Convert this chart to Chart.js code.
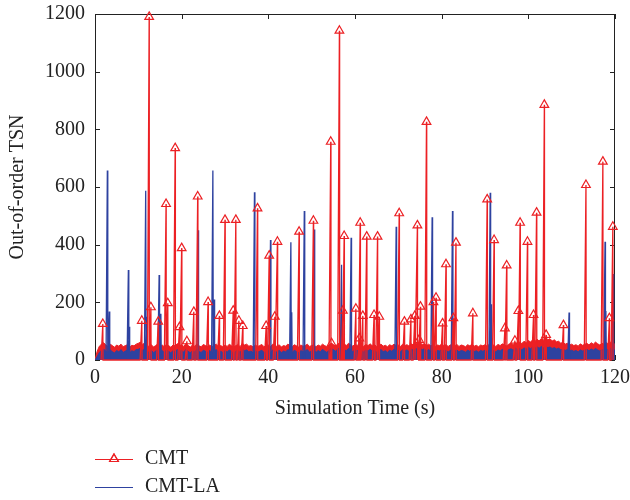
<!DOCTYPE html>
<html><head><meta charset="utf-8">
<script src="https://cdn.jsdelivr.net/npm/chart.js@4/dist/chart.umd.min.js"></script>
<style>html,body{margin:0;padding:0;background:#fff}</style>
</head><body>
<canvas id="c" width="630" height="500"></canvas>
<script>
// ---- data ----
const xTicks = [0, 20, 40, 60, 80, 100, 120];
const yTicks = [0, 200, 400, 600, 800, 1000, 1200];
const seriesNames = ['CMT', 'CMT-LA'];

// CMT peaks (time s, out-of-order TSN) marked by triangles
const cmtPeakTimes = [1.8,10.8,12.5,12.9,14.6,16.4,16.8,18.5,19.5,20.0,21.2,22.8,23.7,26.1,28.7,30.0,31.9,32.5,33.2,34.1,37.5,39.5,40.2,41.5,42.1,47.1,50.4,54.4,54.6,56.4,57.2,57.5,60.2,61.0,61.2,61.8,62.7,64.4,65.2,65.6,70.2,71.4,72.9,73.8,74.4,74.8,75.1,76.5,78.1,78.7,80.2,81.0,82.7,83.3,87.2,90.5,92.1,94.6,95.0,96.9,97.7,98.1,99.8,101.2,101.9,103.7,104.1,108.1,113.3,117.2,118.7,119.5];
const cmtPeakValues = [125,136,1190,183,133,541,197,735,114,388,65,167,567,201,153,486,171,486,136,118,526,118,362,150,410,445,483,757,58,1142,171,430,178,75,476,153,428,156,428,150,509,133,141,153,467,70,185,826,201,216,127,332,145,407,162,557,416,110,328,67,170,476,410,156,511,885,87,121,607,688,145,462];

// CMT-LA spikes
const claPeakTimes = [2.85,3.3,7.7,7.9,11.7,11.9,14.8,15.2,23.8,27.2,27.5,36.8,40.5,45.2,45.4,48.3,50.6,56.9,59.1,69.5,77.8,82.5,91.2,91.4,109.4,117.7,117.9,119.6];
const claPeakValues = [657,168,312,115,587,150,295,160,450,657,210,582,416,408,166,517,453,330,424,462,495,517,580,193,165,410,170,298];

// dense low-level band, one value every 0.5 s from 0 to 120 s
const cmtBand = [
 0,30,48,55,60,52,47,55,50,44,52,48,55,46,50,53,45,51,49,55,
 58,62,54,60,50,47,53,45,50,56,48,52,46,55,50,44,52,49,57,50,
 53,47,58,50,45,52,48,55,49,46,54,50,47,52,45,51,55,48,50,46,
 52,47,55,49,45,50,53,46,58,52,55,48,50,45,52,47,50,54,46,49,
 52,46,55,50,47,53,45,50,48,55,51,46,53,49,45,52,48,50,55,47,
 50,53,46,52,48,55,50,46,52,58,54,49,55,60,52,56,50,58,53,48,
 55,50,58,52,47,54,50,56,49,53,47,52,55,48,51,46,53,49,55,50,
 52,47,55,50,53,48,56,52,58,55,60,54,57,50,55,49,53,47,52,50,
 55,50,53,47,52,56,49,54,47,52,50,46,53,49,55,48,51,46,52,49,
 53,48,55,50,52,47,54,50,56,52,49,55,58,53,60,55,62,57,65,60,
 68,62,70,64,72,66,75,68,80,70,74,66,70,63,65,58,62,55,58,52,
 55,50,53,48,56,51,54,58,52,60,55,62,56,52,58,54,60,56,62,58,
 55];
const claBand = [
 0,12,26,34,38,30,27,35,29,24,33,28,36,26,31,34,25,32,29,36,
 37,41,33,38,29,27,34,25,31,36,28,33,26,35,30,24,33,29,37,30,
 33,27,38,30,25,32,28,36,29,26,34,30,27,33,25,31,36,28,30,26,
 32,27,35,29,25,30,34,26,38,32,35,28,31,25,33,27,30,34,26,29,
 33,26,35,30,27,34,25,31,28,36,32,26,34,29,25,33,28,31,36,27,
 31,35,26,33,28,37,31,26,34,40,36,30,38,42,33,37,31,40,35,29,
 36,31,39,33,28,35,31,37,30,34,27,33,36,29,32,26,34,30,37,31,
 33,28,36,31,35,29,38,33,40,36,42,35,39,31,36,30,34,28,33,31,
 36,31,34,28,33,37,30,35,28,33,31,27,34,30,36,29,32,27,33,30,
 34,29,36,31,33,28,35,31,37,33,30,36,39,34,41,36,40,35,42,38,
 44,39,45,40,46,41,47,42,48,43,45,40,43,38,41,35,38,33,36,31,
 34,30,33,28,35,31,34,37,32,38,34,40,35,31,37,33,38,35,40,36,
 34];
const bandStep = 0.5;

// ---- styling ----
const RED = 'rgb(236,32,36)';
const BLUE = 'rgb(46,66,160)';
const FONT = 'Liberation Serif';
const TXT = '#222';
const FS = 20;

function bandPoints(arr) { return arr.map((v, i) => ({ x: i * bandStep, y: v })); }
function spikePoints(times, values, before, after) {
  const pts = [];
  times.forEach((t, i) => {
    pts.push({ x: t - before, y: 0 });
    pts.push({ x: t, y: values[i], peak: true });
    pts.push({ x: t + after, y: 0 });
  });
  return pts;
}

const frameAndTicks = {
  id: 'frameAndTicks',
  beforeDatasetsDraw(chart) {
    const { ctx, chartArea: a, scales: { x, y } } = chart;
    ctx.save();
    ctx.strokeStyle = '#222';
    ctx.lineWidth = 1;
    ctx.strokeRect(a.left + 0.5, a.top + 0.5, a.right - a.left - 1, a.bottom - a.top - 1);
    ctx.beginPath();
    xTicks.forEach(v => {
      const px = Math.round(x.getPixelForValue(v)) + 0.5;
      ctx.moveTo(px, a.bottom); ctx.lineTo(px, a.bottom - 5);
      ctx.moveTo(px, a.top); ctx.lineTo(px, a.top + 5);
    });
    yTicks.forEach(v => {
      const py = Math.round(y.getPixelForValue(v)) + 0.5;
      ctx.moveTo(a.left, py); ctx.lineTo(a.left + 5, py);
      ctx.moveTo(a.right, py); ctx.lineTo(a.right - 5, py);
    });
    ctx.stroke();
    ctx.restore();
  }
};

const bottomLegend = {
  id: 'bottomLegend',
  afterDraw(chart) {
    const ctx = chart.ctx;
    const items = [
      { text: seriesNames[0], color: RED, marker: true, y: 459 },
      { text: seriesNames[1], color: BLUE, marker: false, y: 487 }
    ];
    ctx.save();
    items.forEach(it => {
      ctx.strokeStyle = it.color;
      ctx.lineWidth = 1.2;
      ctx.beginPath(); ctx.moveTo(95, it.y + 0.5); ctx.lineTo(133, it.y + 0.5); ctx.stroke();
      if (it.marker) {
        Chart.helpers.drawPoint(ctx, { pointStyle: 'triangle', radius: 5, borderWidth: 1 }, 114, it.y);
        ctx.stroke();
      }
      ctx.fillStyle = TXT;
      ctx.font = FS + 'px "' + FONT + '"';
      ctx.textBaseline = 'middle';
      ctx.textAlign = 'left';
      ctx.fillText(it.text, 145, it.y);
    });
    ctx.restore();
  }
};

new Chart(document.getElementById('c'), {
  type: 'line',
  data: {
    datasets: [
      { label: seriesNames[0], data: spikePoints(cmtPeakTimes, cmtPeakValues, 0.4, 0.05),
        borderColor: RED, borderWidth: 1.3, fill: false, tension: 0, clip: false,
        pointStyle: 'triangle', pointBorderColor: RED, pointBackgroundColor: 'rgba(255,255,255,0)',
        pointBorderWidth: 1.2,
        pointRadius: c => (c.raw && c.raw.peak ? 5 : 0), order: 0 },
      { label: seriesNames[1], data: spikePoints(claPeakTimes, claPeakValues, 0.3, 0.1),
        borderColor: BLUE, borderWidth: 1.3, fill: false, tension: 0, pointRadius: 0, order: 1 },
      { label: seriesNames[1] + ' band', data: bandPoints(claBand),
        borderColor: BLUE, backgroundColor: BLUE, borderWidth: 1, fill: 'origin', tension: 0, pointRadius: 0, order: 2 },
      { label: seriesNames[0] + ' band', data: bandPoints(cmtBand),
        borderColor: RED, backgroundColor: RED, borderWidth: 1, fill: 'origin', tension: 0, pointRadius: 0, order: 3 }
    ]
  },
  options: {
    responsive: false,
    animation: false,
    devicePixelRatio: 1,
    layout: { padding: { left: 0, right: 15, top: 14, bottom: 0 } },
    plugins: { legend: { display: false }, tooltip: { enabled: false } },
    scales: {
      x: {
        type: 'linear', min: 0, max: 120,
        afterBuildTicks: s => { s.ticks = xTicks.map(v => ({ value: v })); },
        afterFit: s => { s.height = 140; s.paddingLeft = 0; s.paddingRight = 0; },
        grid: { display: false, drawTicks: false },
        border: { display: false },
        ticks: { padding: 6, color: TXT, font: { family: FONT, size: FS }, maxRotation: 0, callback: v => String(v) },
        title: { display: true, text: 'Simulation Time (s)', color: TXT, font: { family: FONT, size: FS }, padding: { top: 4, bottom: 79 } }
      },
      y: {
        min: 0, max: 1200,
        afterBuildTicks: s => { s.ticks = yTicks.map(v => ({ value: v })); },
        afterFit: s => { s.width = 95; s.paddingTop = 0; s.paddingBottom = 0; },
        grid: { display: false, drawTicks: false },
        border: { display: false },
        ticks: { padding: 10, color: TXT, font: { family: FONT, size: FS }, callback: v => String(v) },
        title: { display: true, text: 'Out-of-order TSN', color: TXT, font: { family: FONT, size: FS }, padding: { top: 6, bottom: 0 } }
      }
    }
  },
  plugins: [frameAndTicks, bottomLegend]
});
</script>
</body></html>
